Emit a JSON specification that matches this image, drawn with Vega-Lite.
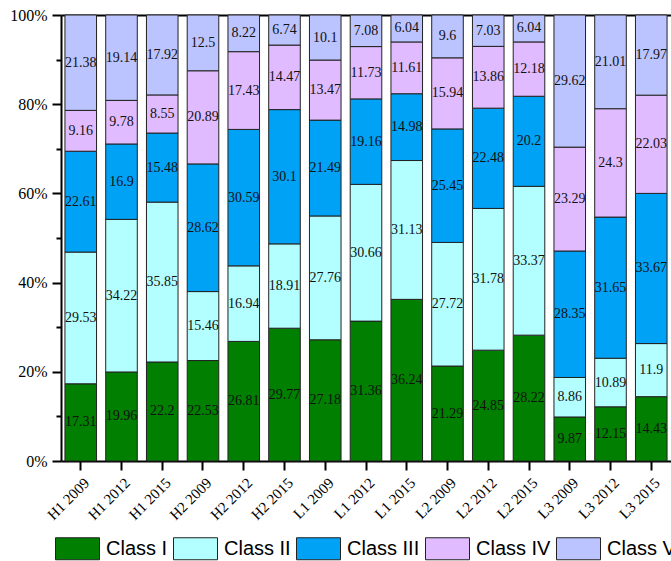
{
  "$schema": "https://vega.github.io/schema/vega-lite/v6.json",
  "width": 610,
  "height": 446,
  "autosize": {"type": "none"},
  "padding": {"left": 61, "top": 15, "right": 0, "bottom": 100},
  "background": "white",
  "config": {"view": {"stroke": null}},
  "data": {"values": [
    {"group": "H1 2009", "cls": "Class I", "value": 17.31},
    {"group": "H1 2009", "cls": "Class II", "value": 29.53},
    {"group": "H1 2009", "cls": "Class III", "value": 22.61},
    {"group": "H1 2009", "cls": "Class IV", "value": 9.16},
    {"group": "H1 2009", "cls": "Class V", "value": 21.38},
    {"group": "H1 2012", "cls": "Class I", "value": 19.96},
    {"group": "H1 2012", "cls": "Class II", "value": 34.22},
    {"group": "H1 2012", "cls": "Class III", "value": 16.9},
    {"group": "H1 2012", "cls": "Class IV", "value": 9.78},
    {"group": "H1 2012", "cls": "Class V", "value": 19.14},
    {"group": "H1 2015", "cls": "Class I", "value": 22.2},
    {"group": "H1 2015", "cls": "Class II", "value": 35.85},
    {"group": "H1 2015", "cls": "Class III", "value": 15.48},
    {"group": "H1 2015", "cls": "Class IV", "value": 8.55},
    {"group": "H1 2015", "cls": "Class V", "value": 17.92},
    {"group": "H2 2009", "cls": "Class I", "value": 22.53},
    {"group": "H2 2009", "cls": "Class II", "value": 15.46},
    {"group": "H2 2009", "cls": "Class III", "value": 28.62},
    {"group": "H2 2009", "cls": "Class IV", "value": 20.89},
    {"group": "H2 2009", "cls": "Class V", "value": 12.5},
    {"group": "H2 2012", "cls": "Class I", "value": 26.81},
    {"group": "H2 2012", "cls": "Class II", "value": 16.94},
    {"group": "H2 2012", "cls": "Class III", "value": 30.59},
    {"group": "H2 2012", "cls": "Class IV", "value": 17.43},
    {"group": "H2 2012", "cls": "Class V", "value": 8.22},
    {"group": "H2 2015", "cls": "Class I", "value": 29.77},
    {"group": "H2 2015", "cls": "Class II", "value": 18.91},
    {"group": "H2 2015", "cls": "Class III", "value": 30.1},
    {"group": "H2 2015", "cls": "Class IV", "value": 14.47},
    {"group": "H2 2015", "cls": "Class V", "value": 6.74},
    {"group": "L1 2009", "cls": "Class I", "value": 27.18},
    {"group": "L1 2009", "cls": "Class II", "value": 27.76},
    {"group": "L1 2009", "cls": "Class III", "value": 21.49},
    {"group": "L1 2009", "cls": "Class IV", "value": 13.47},
    {"group": "L1 2009", "cls": "Class V", "value": 10.1},
    {"group": "L1 2012", "cls": "Class I", "value": 31.36},
    {"group": "L1 2012", "cls": "Class II", "value": 30.66},
    {"group": "L1 2012", "cls": "Class III", "value": 19.16},
    {"group": "L1 2012", "cls": "Class IV", "value": 11.73},
    {"group": "L1 2012", "cls": "Class V", "value": 7.08},
    {"group": "L1 2015", "cls": "Class I", "value": 36.24},
    {"group": "L1 2015", "cls": "Class II", "value": 31.13},
    {"group": "L1 2015", "cls": "Class III", "value": 14.98},
    {"group": "L1 2015", "cls": "Class IV", "value": 11.61},
    {"group": "L1 2015", "cls": "Class V", "value": 6.04},
    {"group": "L2 2009", "cls": "Class I", "value": 21.29},
    {"group": "L2 2009", "cls": "Class II", "value": 27.72},
    {"group": "L2 2009", "cls": "Class III", "value": 25.45},
    {"group": "L2 2009", "cls": "Class IV", "value": 15.94},
    {"group": "L2 2009", "cls": "Class V", "value": 9.6},
    {"group": "L2 2012", "cls": "Class I", "value": 24.85},
    {"group": "L2 2012", "cls": "Class II", "value": 31.78},
    {"group": "L2 2012", "cls": "Class III", "value": 22.48},
    {"group": "L2 2012", "cls": "Class IV", "value": 13.86},
    {"group": "L2 2012", "cls": "Class V", "value": 7.03},
    {"group": "L2 2015", "cls": "Class I", "value": 28.22},
    {"group": "L2 2015", "cls": "Class II", "value": 33.37},
    {"group": "L2 2015", "cls": "Class III", "value": 20.2},
    {"group": "L2 2015", "cls": "Class IV", "value": 12.18},
    {"group": "L2 2015", "cls": "Class V", "value": 6.04},
    {"group": "L3 2009", "cls": "Class I", "value": 9.87},
    {"group": "L3 2009", "cls": "Class II", "value": 8.86},
    {"group": "L3 2009", "cls": "Class III", "value": 28.35},
    {"group": "L3 2009", "cls": "Class IV", "value": 23.29},
    {"group": "L3 2009", "cls": "Class V", "value": 29.62},
    {"group": "L3 2012", "cls": "Class I", "value": 12.15},
    {"group": "L3 2012", "cls": "Class II", "value": 10.89},
    {"group": "L3 2012", "cls": "Class III", "value": 31.65},
    {"group": "L3 2012", "cls": "Class IV", "value": 24.3},
    {"group": "L3 2012", "cls": "Class V", "value": 21.01},
    {"group": "L3 2015", "cls": "Class I", "value": 14.43},
    {"group": "L3 2015", "cls": "Class II", "value": 11.9},
    {"group": "L3 2015", "cls": "Class III", "value": 33.67},
    {"group": "L3 2015", "cls": "Class IV", "value": 22.03},
    {"group": "L3 2015", "cls": "Class V", "value": 17.97}
  ]},
  "layer": [
    {
      "mark": {"type": "bar", "stroke": "#222", "strokeWidth": 1},
      "encoding": {
        "x": {
          "field": "group", "type": "nominal", "sort": null,
          "scale": {"paddingInner": 0.225, "paddingOuter": 0.097},
          "axis": {
            "orient": "bottom", "title": null,
            "domainColor": "#000", "domainWidth": 2,
            "tickColor": "#000", "tickWidth": 2, "tickSize": 9,
            "labelAngle": -45, "labelAlign": "right", "labelBaseline": "middle",
            "labelFont": "Liberation Serif", "labelFontSize": 15,
            "labelColor": "#000", "labelPadding": 10, "labelOffset": 6
          }
        },
        "y": {
          "field": "value", "type": "quantitative", "stack": "normalize",
          "scale": {"domain": [0, 1], "nice": false},
          "axis": {
            "title": null, "grid": false,
            "values": [0, 0.1, 0.2, 0.3, 0.4, 0.5, 0.6, 0.7, 0.8, 0.9, 1],
            "labelExpr": "round(datum.value*10) % 2 == 1 ? '' : format(datum.value, '.0%')",
            "domainColor": "#000", "domainWidth": 2,
            "tickColor": "#000", "tickWidth": 2,
            "tickSize": {"condition": {"test": "round(datum.value*10) % 2 == 1", "value": 5}, "value": 9},
            "labelFont": "Liberation Serif", "labelFontSize": 16, "labelColor": "#000", "labelPadding": 5
          }
        },
        "order": {"field": "cls", "sort": "ascending"},
        "color": {
          "field": "cls", "type": "nominal",
          "scale": {
            "domain": ["Class I", "Class II", "Class III", "Class IV", "Class V"],
            "range": ["#007F00", "#B3FFFF", "#00A2F5", "#E0BBFF", "#BCC4FF"]
          },
          "legend": {
            "title": null, "orient": "none", "direction": "horizontal",
            "legendX": -6, "legendY": 511, "padding": 0,
            "symbolType": "M-1,-0.5H1V0.5H-1Z", "symbolSize": 1936,
            "symbolStrokeColor": "#222", "symbolStrokeWidth": 1, "symbolOpacity": 1,
            "labelFont": "Liberation Sans", "labelFontSize": 20, "labelColor": "#000",
            "labelOffset": 6, "columnPadding": 3, "labelLimit": 200
          }
        }
      }
    },
    {
      "mark": {"type": "text", "font": "Liberation Serif", "fontSize": 14, "color": "#111"},
      "encoding": {
        "x": {
          "field": "group", "type": "nominal", "sort": null,
          "axis": {"orient": "top", "title": null, "labels": false, "ticks": false, "domainColor": "#000", "domainWidth": 2}
        },
        "y": {"field": "value", "type": "quantitative", "stack": "normalize", "bandPosition": 0.5},
        "order": {"field": "cls", "sort": "ascending"},
        "detail": {"field": "cls"},
        "text": {"field": "value", "type": "quantitative"}
      }
    }
  ]
}
